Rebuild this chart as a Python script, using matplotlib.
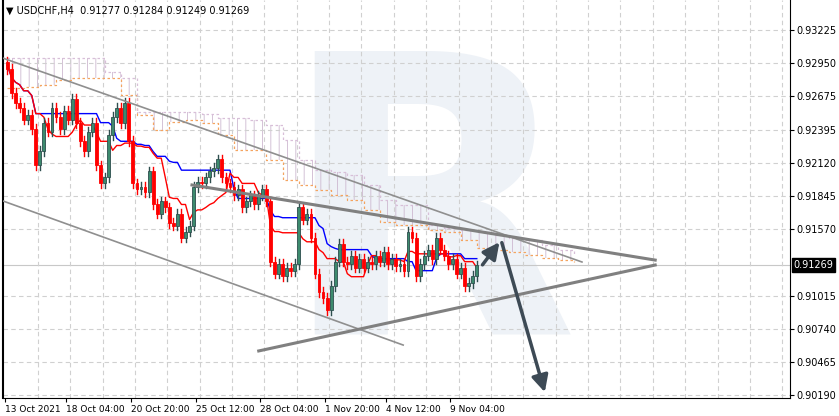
import numpy as np
import pandas as pd
import matplotlib.pyplot as plt
from matplotlib.patches import Rectangle

# closes per H4 bar (open = previous close)
closes = [0.9290, 0.9270, 0.9262, 0.9258, 0.9248, 0.9252, 0.9240, 0.9210,
          0.9222, 0.9245, 0.9238, 0.9258, 0.9250, 0.9240, 0.9255, 0.9248,
          0.9265, 0.9245, 0.9230, 0.9222, 0.9238, 0.9245, 0.9210, 0.9195,
          0.9200, 0.9235, 0.9250, 0.9258, 0.9245, 0.9262, 0.9230, 0.9195,
          0.9190, 0.9192, 0.9188, 0.9205, 0.9178, 0.9170, 0.9180, 0.9175,
          0.9162, 0.9160, 0.9170, 0.9150, 0.9155, 0.9160, 0.9192, 0.9196,
          0.9195, 0.9200, 0.9205, 0.9208, 0.9215, 0.9200, 0.9195, 0.9192,
          0.9185, 0.9190, 0.9175, 0.9180, 0.9185, 0.9178, 0.9185, 0.9190,
          0.9180, 0.9130, 0.9120, 0.9128, 0.9118, 0.9125, 0.9122, 0.9128,
          0.9175, 0.9165, 0.9170, 0.9150, 0.9120, 0.9105, 0.9100, 0.9090,
          0.9110, 0.9130, 0.9145, 0.9130, 0.9128, 0.9135, 0.9125, 0.9132,
          0.9125, 0.9130, 0.9128, 0.9135, 0.9130, 0.9138, 0.9128, 0.9132,
          0.9126, 0.9128, 0.9122, 0.9155, 0.9150, 0.9118, 0.9128, 0.9135,
          0.9140, 0.9132, 0.9150, 0.9140, 0.9135, 0.9128, 0.9132, 0.9120,
          0.9125, 0.9110, 0.9112, 0.9118, 0.91269]
first_open = 0.9296
wick = 0.0004

# Ichimoku cloud spans, one value every 4 bars
cloud_step = 4
span_b = [0.92992, 0.92992, 0.92992, 0.92992, 0.92992, 0.92992, 0.92876, 0.92826,
          0.92544, 0.92544, 0.92544, 0.92544, 0.92527, 0.92494, 0.92494, 0.92477,
          0.92436, 0.92311, 0.92145, 0.92062, 0.92045, 0.92020, 0.91937, 0.91812,
          0.91771, 0.91771, 0.91605, 0.91580, 0.91563, 0.91546, 0.91521, 0.91497,
          0.91480, 0.91438, 0.91397, 0.91347]
span_a = [0.92743, 0.92751, 0.92768, 0.92810, 0.92826, 0.92826, 0.92826, 0.92685,
          0.92519, 0.92394, 0.92460, 0.92477, 0.92452, 0.92352, 0.92228, 0.92228,
          0.92145, 0.91978, 0.91937, 0.91895, 0.91854, 0.91812, 0.91729, 0.91630,
          0.91605, 0.91605, 0.91563, 0.91546, 0.91480, 0.91413, 0.91397, 0.91380,
          0.91355, 0.91330, 0.91314, 0.91297]

price_ticks = [0.93225, 0.92950, 0.92675, 0.92395, 0.92120, 0.91845, 0.91570,
               0.91015, 0.90740, 0.90465, 0.90190]
date_labels = ['13 Oct 2021', '18 Oct 04:00', '20 Oct 20:00', '25 Oct 12:00',
               '28 Oct 04:00', '1 Nov 20:00', '4 Nov 12:00', '9 Nov 04:00']
date_pos = [0, 15, 31, 47, 63, 79, 94, 110]
last_price = 0.91269

# trend lines (bar index, price)
thin_lines = [((-1.2, 0.92992), (142.0, 0.91297)),
              ((-1.2, 0.91805), (97.8, 0.90607))]
thick_lines = [((45.6, 0.91937), (160.1, 0.91313)),
               ((62.1, 0.90558), (160.1, 0.91272))]
arrow_up = ((117.0, 0.91255), (122.0, 0.91480))
arrow_down = ((122.0, 0.91480), (133.0, 0.90193))

n = len(closes)
opens = [first_open] + closes[:-1]
highs = [max(o, c) + wick for o, c in zip(opens, closes)]
lows = [min(o, c) - wick for o, c in zip(opens, closes)]
df = pd.DataFrame({'o': opens, 'h': highs, 'l': lows, 'c': closes})
tenkan = (df.h.rolling(9, min_periods=1).max() + df.l.rolling(9, min_periods=1).min()) / 2
kijun = (df.h.rolling(26, min_periods=1).max() + df.l.rolling(26, min_periods=1).min()) / 2

plt.rcParams['hatch.linewidth'] = 0.6

fig = plt.figure(figsize=(8.39, 4.16), dpi=100)
ax = fig.add_axes([0.003, 18 / 416, 787 / 839, 398 / 416])
ax.set_xlim(-1.23, 193.3)
ax.set_ylim(0.90167, 0.93474)

# watermark
ax.text(104, 0.9160, 'R', fontsize=280, fontweight='bold', color='#eef2f7',
        ha='center', va='center', family='DejaVu Sans', zorder=0, clip_on=True)

# cloud
cx = np.arange(len(span_a)) * cloud_step
ax.fill_between(cx, span_a, span_b, step='post', facecolor='none',
                edgecolor='#cdb8d0', hatch='||', linewidth=0, zorder=1)
ax.step(cx, span_a, where='post', color='#f4a460', ls=(0, (2, 2)), lw=0.9, zorder=2)
ax.step(cx, span_b, where='post', color='#d8bfd8', ls=(0, (2, 2)), lw=0.9, zorder=2)

ax.plot(range(n), kijun, color='#0000ff', lw=1, zorder=3)
ax.plot(range(n), tenkan, color='#ff0000', lw=1, zorder=3)

for i, (o, h, l, c) in enumerate(zip(opens, highs, lows, closes)):
    bull = c >= o
    col = '#2f4f4f' if bull else '#ff0000'
    ax.plot([i, i], [l, h], color=col, lw=1, zorder=4)
    ax.add_patch(Rectangle((i - 0.35, min(o, c)), 0.7, max(abs(c - o), 0.00003),
                           facecolor='#3d8b6e' if bull else '#ff0000',
                           edgecolor=col, lw=0.6, zorder=5))

for (a, b) in thin_lines:
    ax.plot([a[0], b[0]], [a[1], b[1]], color='#8f8f8f', lw=1.2, zorder=6)
for (a, b) in thick_lines:
    ax.plot([a[0], b[0]], [a[1], b[1]], color='#808080', lw=2.2, zorder=6)
for (a, b) in (arrow_up, arrow_down):
    ax.annotate('', xy=b, xytext=a, zorder=7,
                arrowprops=dict(arrowstyle='-|>,head_width=0.5,head_length=1.0',
                                color='#3d4a55', lw=2.5))

ax.axhline(last_price, color='#c8c8c8', lw=0.8, zorder=1)

ax.set_yticks(price_ticks)
ax.set_yticklabels([f'{p:.5f}' for p in price_ticks])
ax.yaxis.tick_right()
ax.set_xticks([p - 0.5 for p in date_pos])
ax.set_xticklabels(date_labels, ha='left')
ax.set_xticks(np.arange(7.5, 193, 8), minor=True)
ax.tick_params(axis='y', labelsize=7, length=3, pad=2)
ax.tick_params(axis='x', labelsize=6.5, length=3, pad=2)
ax.tick_params(axis='x', which='minor', length=0)
ax.grid(True, which='minor', axis='x', color='#d0d0d0', ls=(0, (4, 3)), lw=0.8)
ax.grid(True, which='major', axis='y', color='#d0d0d0', ls=(0, (4, 3)), lw=0.8)
ax.spines['top'].set_visible(False)
ax.spines['left'].set_linewidth(1.5)

ax.text(1.005, last_price, f'{last_price:.5f}', transform=ax.get_yaxis_transform(),
        fontsize=7, color='white', va='center', ha='left',
        bbox=dict(boxstyle='square,pad=0.2', facecolor='black', edgecolor='black'))
ax.text(0.005, 0.985, '\u25bc USDCHF,H4  0.91277 0.91284 0.91249 0.91269',
        transform=ax.transAxes, fontsize=7, va='top', ha='left')

fig.savefig('out.png', dpi=100)
